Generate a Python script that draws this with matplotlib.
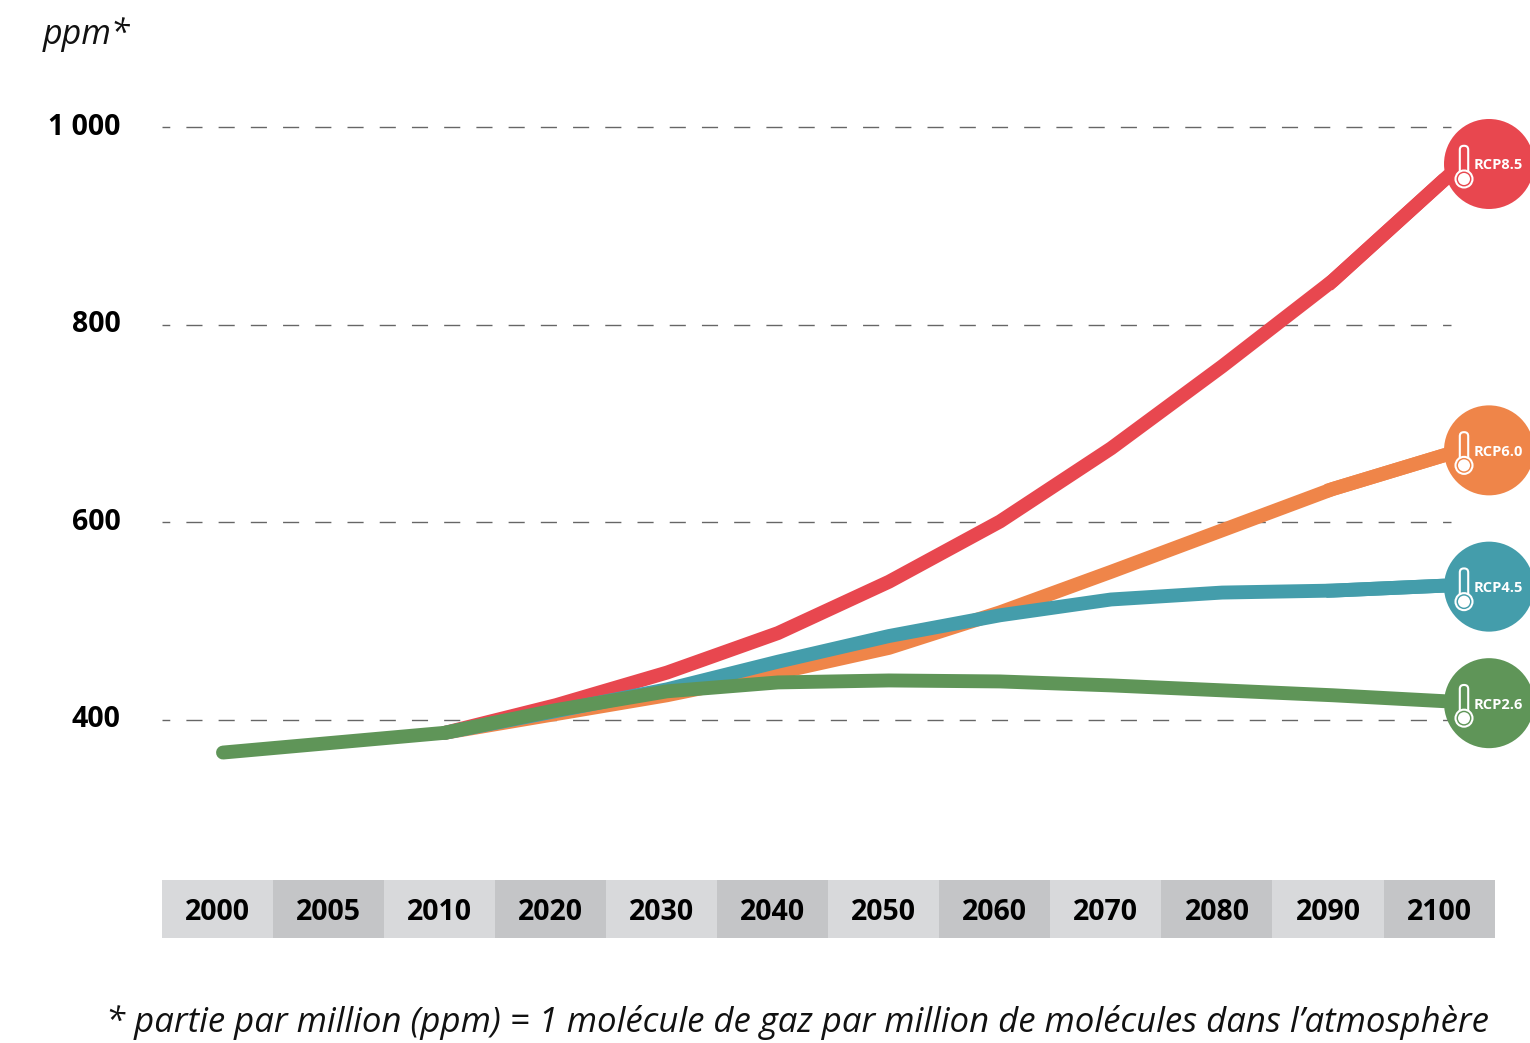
# -*- coding:utf-8 -*-
import numpy as np
import matplotlib
matplotlib.use('Agg')
import matplotlib.pyplot as plt
from matplotlib.patches import Circle, FancyBboxPatch
from matplotlib.transforms import ScaledTranslation

years = ['2000', '2005', '2010', '2020', '2030', '2040', '2050', '2060', '2070', '2080', '2090', '2100']
rcp85 = [367, 377, 387, 415, 448, 488, 540, 601, 675, 758, 845, 947]
rcp60 = [367, 377, 387, 406, 425, 448, 473, 509, 550, 592, 634, 668]
rcp45 = [367, 377, 387, 409, 431, 459, 485, 506, 522, 529, 531, 536]
rcp26 = [367, 377, 387, 410, 429, 438, 440, 439, 435, 430, 425, 419]
y_ticks = [400, 600, 800, 1000]
y_labels = ['400', '600', '800', '1 000']
badge_names = ['RCP8.5', 'RCP6.0', 'RCP4.5', 'RCP2.6']
badge_ppm = [963, 673, 535, 417]

RED = '#e8474f'
ORANGE = '#ef8549'
TEAL = '#449dab'
GREEN = '#5f9558'
W, H = 1530, 1043

plt.rcParams['font.family'] = ['Open Sans', 'DejaVu Sans']

fig = plt.figure(figsize=(W / 100, H / 100), dpi=100)
ax = fig.add_axes([162 / W, (H - 938) / H, (1495 - 162) / W, (938 - 100) / H])
ax.set_xlim(-0.5495, 11.459)
ax.set_ylim(179.2, 1027.8)
for s in ax.spines.values():
    s.set_visible(False)
ax.set_xticks([])
ax.set_yticks(y_ticks)
ax.set_yticklabels(y_labels, fontsize=20.5, fontweight='bold', color='black')
ax.tick_params(axis='y', length=0, pad=30)
# les labels sont un peu au dessus des pointilles
up = ScaledTranslation(0, 3.5 / 100, fig.dpi_scale_trans)
for lab in ax.get_yticklabels():
    lab.set_transform(lab.get_transform() + up)

ax.hlines(y_ticks, -0.5495, 11.06, color='#666666', lw=1.0,
          linestyles=[(6, (11.6, 11.6))], zorder=1)

x = np.arange(len(years))
# tronc commun 2000-2010 : seul le vert se voit, donc les autres partent de 2010
for vals, col in [(rcp85, RED), (rcp60, ORANGE), (rcp45, TEAL)]:
    ax.plot(x[2:], vals[2:], color=col, lw=10, solid_capstyle='round', solid_joinstyle='round', zorder=2)
    # dernier segment prolonge sous la pastille
    ax.plot(x[-2:], vals[-2:], color=col, lw=10, solid_capstyle='projecting', zorder=2)
ax.plot(x, rcp26, color=GREEN, lw=10, solid_capstyle='round', solid_joinstyle='round', zorder=2)

# bandeau des annees
cell_w = 1.0004
cell_x = -0.0495 + x * cell_w
cell_colors = ['#d8d9db' if i % 2 == 0 else '#c4c5c7' for i in range(len(years))]
ax.bar(cell_x, 58.8, width=cell_w, bottom=179.2, color=cell_colors, lw=0, zorder=2)
for cx, y in zip(cell_x, years):
    ax.text(cx, 205.5, y, ha='center', va='center', fontsize=20.5, fontweight='bold', color='black')

# pastilles
fig.canvas.draw()
badge_x = 11.405
for name, ppm, col in zip(badge_names, badge_ppm, [RED, ORANGE, TEAL, GREEN]):
    px, py = ax.transData.transform((badge_x, ppm))
    ax.add_patch(Circle((px, py), 45, transform=None, fc=col, ec='none', zorder=5, clip_on=False))
    tx = px - 25
    ax.add_patch(FancyBboxPatch((tx - 3, py - 16), 6, 33, boxstyle='round,pad=1.2,rounding_size=4',
                                transform=None, fc=col, ec='white', lw=1.5, zorder=6, clip_on=False))
    ax.add_patch(Circle((tx, py - 15), 8.5, transform=None, fc=col, ec='white', lw=1.5, zorder=7, clip_on=False))
    ax.add_patch(Circle((tx, py - 15), 6, transform=None, fc='white', ec='none', zorder=8, clip_on=False))
    ax.text(px + 34, py - 1.5, name, transform=None, ha='right', va='center', fontsize=10.5,
            fontweight='bold', color='white', zorder=9, clip_on=False)

fig.text(43 / W, (H - 35) / H, 'ppm*', fontsize=24.5, style='italic', color='#111111', ha='left', va='center')
fig.text(1489 / W, (H - 1023) / H, '* partie par million (ppm) = 1 molécule de gaz par million de molécules dans l’atmosphère',
         fontsize=25.05, style='italic', color='#111111', ha='right', va='center')

fig.savefig('out.png', dpi=100)
